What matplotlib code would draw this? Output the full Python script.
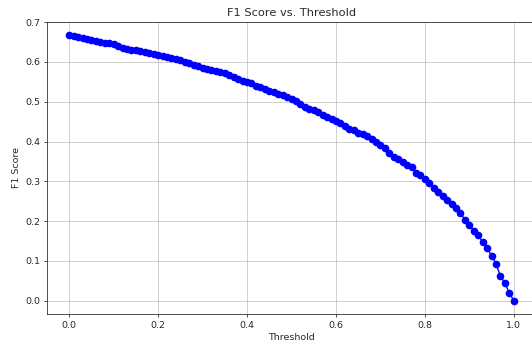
import numpy as np
import matplotlib
matplotlib.use("Agg")
import matplotlib.pyplot as plt

thresholds = [round(i * 0.01, 2) for i in range(101)]
f1_scores = [
    0.667, 0.665, 0.663, 0.660, 0.658, 0.656, 0.653, 0.650, 0.648, 0.647,
    0.644, 0.640, 0.635, 0.633, 0.631, 0.629, 0.627, 0.625, 0.622, 0.619,
    0.617, 0.615, 0.613, 0.611, 0.607, 0.604, 0.600, 0.597, 0.593, 0.589,
    0.585, 0.582, 0.579, 0.576, 0.575, 0.571, 0.567, 0.562, 0.557, 0.553,
    0.550, 0.546, 0.540, 0.536, 0.532, 0.528, 0.525, 0.519, 0.516, 0.511,
    0.506, 0.502, 0.495, 0.488, 0.483, 0.478, 0.474, 0.467, 0.462, 0.456,
    0.452, 0.447, 0.440, 0.432, 0.428, 0.422, 0.420, 0.414, 0.407, 0.400,
    0.392, 0.383, 0.372, 0.362, 0.355, 0.348, 0.340, 0.335, 0.322, 0.315,
    0.306, 0.295, 0.283, 0.272, 0.263, 0.253, 0.244, 0.232, 0.220, 0.204,
    0.190, 0.176, 0.165, 0.147, 0.133, 0.113, 0.093, 0.062, 0.044, 0.020,
    0.000,
]

txt = '#2a2a2a'
fig = plt.figure(figsize=(5.32, 3.45), dpi=100)
ax = fig.add_axes([47 / 532, 1 - 314 / 345, (536 - 47) / 532, (314 - 22) / 345])
ax.plot(thresholds, f1_scores, marker='o', color='blue', linewidth=1.0, markersize=4.5)
ax.set_title('F1 Score vs. Threshold', fontsize=8.2, pad=4, color=txt)
ax.set_xlabel('Threshold', fontsize=6.8, labelpad=2.5, color=txt)
ax.set_ylabel('F1 Score', fontsize=6.8, labelpad=3, color=txt)
ax.tick_params(labelsize=6.8, length=2.4, width=0.6, pad=2.4, labelcolor=txt, color='#333333')
ax.grid(True, color='#b0b0b0', linewidth=0.6, alpha=0.7)
for s in ax.spines.values():
    s.set_linewidth(0.6)
    s.set_color('#333333')
ax.set_xticks([0.0, 0.2, 0.4, 0.6, 0.8, 1.0])
fig.savefig('out.png', dpi=100)
